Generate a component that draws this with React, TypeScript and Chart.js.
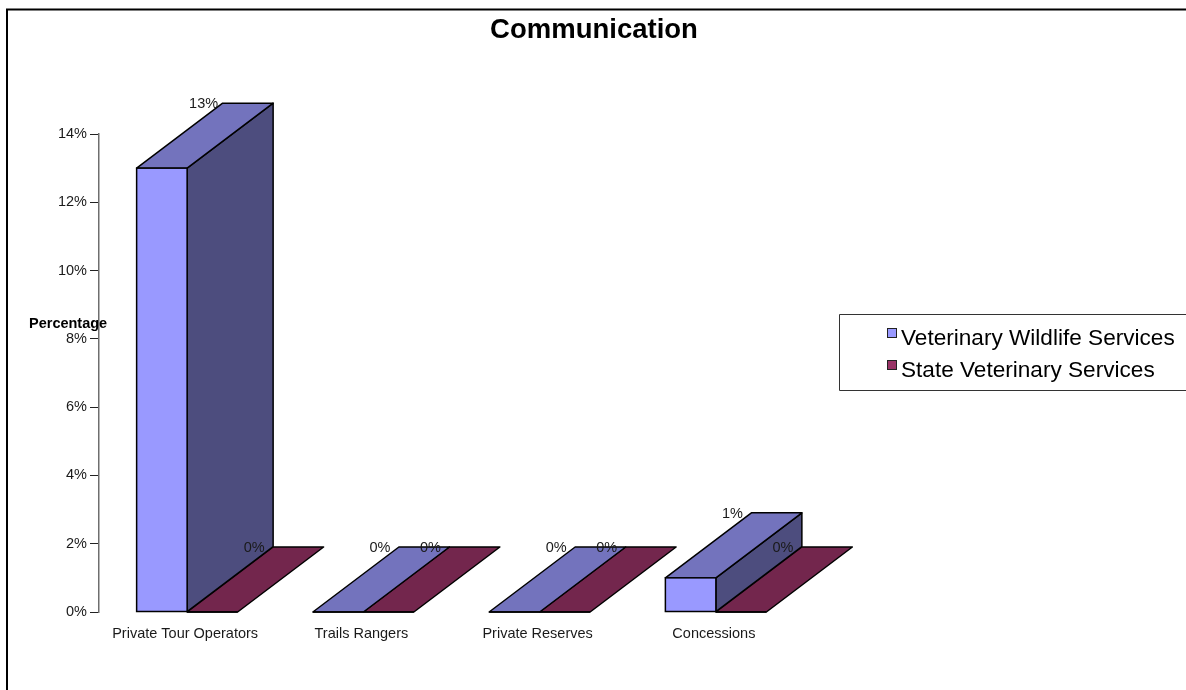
import React, { useEffect, useRef } from "react";
import { Chart, registerables } from "chart.js";

Chart.register(...registerables);

const categories = ["Private Tour Operators", "Trails Rangers", "Private Reserves", "Concessions"];
const veterinaryWildlife = [13, 0, 0, 1];
const stateVeterinary = [0, 0, 0, 0];
const yTicksMax = 14;
const yTicksStep = 2;

const FONT = '"Liberation Sans", Arial, sans-serif';
const TICK_SIZE = 14.5;
const DEPTH_X = 86;
const DEPTH_Y = 65;
const EDGE = 1.5;

const palette = [
  { front: "#9999FF", top: "#7373BD", side: "#4D4D7E" },
  { front: "#993366", top: "#73264D", side: "#4D1A33" },
];

function face(ctx: CanvasRenderingContext2D, pts: number[][], fill: string) {
  ctx.beginPath();
  pts.forEach(([x, y], i) => (i ? ctx.lineTo(x, y) : ctx.moveTo(x, y)));
  ctx.closePath();
  ctx.fillStyle = fill;
  ctx.fill();
  ctx.lineWidth = EDGE;
  ctx.lineJoin = "round";
  ctx.strokeStyle = "#000000";
  ctx.stroke();
}

// Extruded top and side faces behind each bar; the later series goes first
// so that a taller neighbour on its left stays in front.
const extrusion = {
  id: "extrusion",
  beforeDatasetsDraw(chart: any) {
    const { ctx } = chart;
    ctx.save();
    [1, 0].forEach((ds) => {
      chart.getDatasetMeta(ds).data.forEach((bar: any) => {
        const { x, y, base, width } = bar.getProps(["x", "y", "base", "width"], true);
        const l = x - width / 2;
        const r = x + width / 2;
        const c = palette[ds];
        if (base - y > 0.5) {
          face(ctx, [[r, y], [r + DEPTH_X, y - DEPTH_Y], [r + DEPTH_X, base - DEPTH_Y], [r, base]], c.side);
        }
        face(ctx, [[l, y], [l + DEPTH_X, y - DEPTH_Y], [r + DEPTH_X, y - DEPTH_Y], [r, y]], c.top);
      });
    });
    ctx.restore();
  },
  afterDatasetsDraw(chart: any) {
    const { ctx } = chart;
    ctx.save();
    ctx.lineWidth = EDGE;
    ctx.strokeStyle = "#000000";
    chart.data.datasets.forEach((_: any, ds: number) => {
      chart.getDatasetMeta(ds).data.forEach((bar: any) => {
        const { x, y, base, width } = bar.getProps(["x", "y", "base", "width"], true);
        ctx.strokeRect(x - width / 2, y, width, base - y);
      });
    });
    ctx.font = `${TICK_SIZE}px ${FONT}`;
    ctx.fillStyle = "#1a1a1a";
    ctx.textAlign = "center";
    ctx.textBaseline = "middle";
    chart.data.datasets.forEach((set: any, ds: number) => {
      chart.getDatasetMeta(ds).data.forEach((bar: any, i: number) => {
        const { x, y, width } = bar.getProps(["x", "y", "width"], true);
        ctx.fillText(`${set.data[i]}%`, x - width / 2 + DEPTH_X - 19, y - DEPTH_Y + 1);
      });
    });
    ctx.restore();
  },
};

// Frame, axis caption and the legend box, which sits at the cut-off right edge.
const furniture = {
  id: "furniture",
  afterLayout(chart: any) {
    // The title is centred on the whole canvas, not on the narrower plot.
    chart.titleBlock.right = 1188;
  },
  afterDraw(chart: any) {
    const { ctx } = chart;
    ctx.save();
    ctx.strokeStyle = "#000000";
    ctx.lineWidth = 2;
    ctx.beginPath();
    ctx.moveTo(7, 690);
    ctx.lineTo(7, 9.5);
    ctx.lineTo(1186, 9.5);
    ctx.stroke();

    ctx.fillStyle = "#000000";
    ctx.font = `bold ${TICK_SIZE}px ${FONT}`;
    ctx.textAlign = "left";
    ctx.textBaseline = "middle";
    ctx.fillText("Percentage", 29, 324);

    ctx.lineWidth = 1;
    ctx.strokeStyle = "#333333";
    ctx.fillStyle = "#FFFFFF";
    ctx.beginPath();
    ctx.rect(839.5, 314.5, 360, 76);
    ctx.fill();
    ctx.stroke();

    ctx.font = `22.6px ${FONT}`;
    chart.data.datasets.forEach((set: any, i: number) => {
      const cy = 338 + i * 32;
      ctx.fillStyle = palette[i].front;
      ctx.strokeStyle = "#222222";
      ctx.fillRect(887.5, cy - 9.5, 9, 9);
      ctx.strokeRect(887.5, cy - 9.5, 9, 9);
      ctx.fillStyle = "#000000";
      ctx.fillText(set.label, 901, cy + 1);
    });
    ctx.restore();
  },
};

export default function App() {
  const ref = useRef<HTMLCanvasElement>(null);

  useEffect(() => {
    const chart = new Chart(ref.current!, {
      type: "bar",
      data: {
        labels: categories,
        datasets: [
          {
            label: "Veterinary Wildlife Services",
            data: veterinaryWildlife,
            backgroundColor: palette[0].front,
            borderWidth: 0,
          },
          {
            label: "State Veterinary Services",
            data: stateVeterinary,
            backgroundColor: palette[1].front,
            borderWidth: 0,
          },
        ],
      },
      options: {
        responsive: false,
        animation: false,
        layout: { padding: { right: 382 } },
        datasets: { bar: { categoryPercentage: 0.573, barPercentage: 1 } },
        plugins: {
          legend: { display: false },
          tooltip: { enabled: false },
          title: {
            display: true,
            text: "Communication",
            color: "#000000",
            font: { family: FONT, size: 27.5, weight: "bold" },
            padding: { top: 14, bottom: 87 },
          },
        },
        scales: {
          x: {
            afterFit: (s: any) => {
              s.height = 78;
            },
            grid: { display: false, drawTicks: false },
            border: { display: false },
            ticks: {
              color: "#1a1a1a",
              font: { family: FONT, size: TICK_SIZE },
              padding: 13,
              labelOffset: -2,
              maxRotation: 0,
            },
          },
          y: {
            min: 0,
            max: yTicksMax,
            afterFit: (s: any) => {
              s.width = 99;
            },
            grid: { drawOnChartArea: false, tickLength: 9, color: "#222222" },
            border: { color: "#6e6e6e", width: 1.5 },
            ticks: {
              stepSize: yTicksStep,
              padding: 3,
              color: "#1a1a1a",
              font: { family: FONT, size: TICK_SIZE },
              callback: (v: any) => `${v}%`,
            },
          },
        },
      },
      plugins: [extrusion, furniture],
    } as any);
    return () => chart.destroy();
  }, []);

  return (
    <div style={{ position: "fixed", left: 0, top: 0, width: 1186, height: 690, background: "#fff" }}>
      <canvas ref={ref} width={1186} height={690} style={{ display: "block" }} />
    </div>
  );
}
